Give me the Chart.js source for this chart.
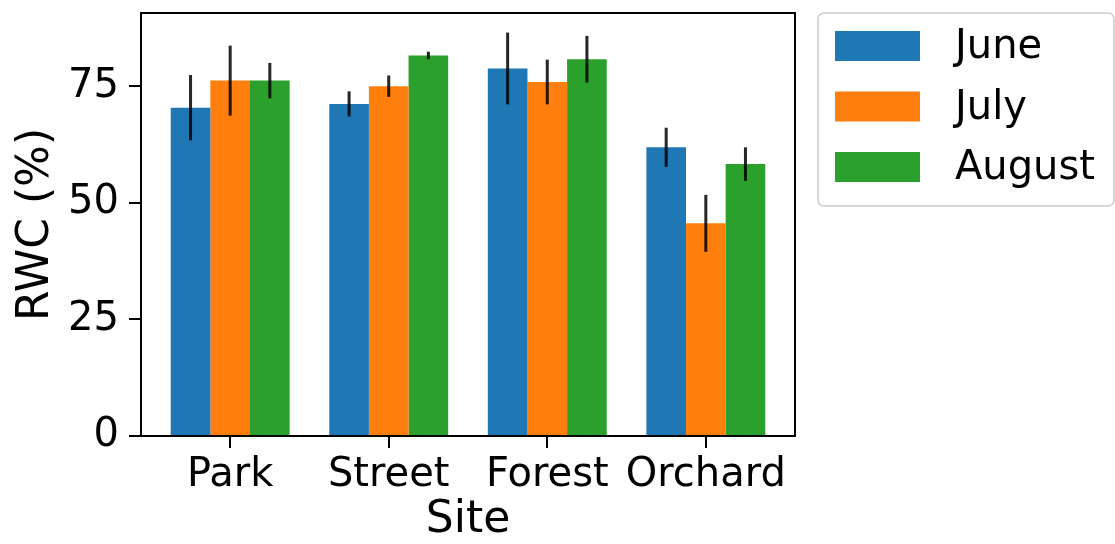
<!DOCTYPE html>
<html>
<head>
<meta charset="utf-8">
<script src="https://cdn.jsdelivr.net/npm/chart.js@4.4.1/dist/chart.umd.min.js"></script>
<style>
  html, body { margin: 0; padding: 0; background: #fff; }
  #wrap { width: 1115px; height: 544px; }
</style>
</head>
<body>
<div id="wrap"><canvas id="myChart" width="1115" height="544"></canvas></div>
<script>
// Dados
const sites = ["Park", "Street", "Forest", "Orchard"];
const months = ["June", "July", "August"];
const june = [70.4, 71.2, 78.8, 61.9];
const juneErr = [7.0, 2.7, 7.7, 4.2];
const july = [76.2, 75.0, 75.9, 45.6];
const julyErr = [7.5, 2.3, 4.8, 6.1];
const august = [76.2, 81.6, 80.8, 58.3];
const augustErr = [3.8, 0.8, 5.0, 3.6];
const yTicks = [0, 25, 50, 75];

const colors = ["#1f77b4", "#ff7f0e", "#2ca02c"];
const FONT = "DejaVu Sans";

function toPoints(values) {
  return values.map((v, i) => ({ x: i, y: v }));
}

// Barras de erro desenhadas pelas escalas do gráfico
const errorBars = {
  id: "errorBars",
  afterDatasetsDraw(chart) {
    const ctx = chart.ctx;
    const yScale = chart.scales.y;
    ctx.save();
    ctx.strokeStyle = "rgba(0,0,0,0.85)";
    ctx.lineWidth = 3;
    chart.data.datasets.forEach((ds, di) => {
      const meta = chart.getDatasetMeta(di);
      meta.data.forEach((bar, i) => {
        const v = ds.data[i].y;
        const e = ds.errors[i];
        ctx.beginPath();
        ctx.moveTo(bar.x, yScale.getPixelForValue(v - e));
        ctx.lineTo(bar.x, yScale.getPixelForValue(v + e));
        ctx.stroke();
      });
    });
    ctx.restore();
  },
};

// Moldura completa (estilo matplotlib) e legenda
const frameAndLegend = {
  id: "frameAndLegend",
  afterDraw(chart) {
    const ctx = chart.ctx;
    const a = chart.chartArea;
    ctx.save();
    ctx.strokeStyle = "#000";
    ctx.lineWidth = 2;
    ctx.strokeRect(a.left, a.top, a.right - a.left, a.bottom - a.top);

    // legenda
    const lx = a.right + 23;
    const ly = 13;
    const lw = 296;
    const lh = 193;
    ctx.strokeStyle = "#cccccc";
    ctx.lineWidth = 1.5;
    ctx.fillStyle = "rgba(255,255,255,0.8)";
    ctx.beginPath();
    ctx.roundRect(lx, ly, lw, lh, 6);
    ctx.fill();
    ctx.stroke();

    ctx.font = `40px "${FONT}"`;
    ctx.textBaseline = "middle";
    ctx.textAlign = "left";
    chart.data.datasets.forEach((ds, i) => {
      const cy = ly + 33 + i * 60.5;
      ctx.fillStyle = ds.backgroundColor;
      ctx.fillRect(lx + 17, cy - 15, 85, 30);
      ctx.fillStyle = "#000";
      ctx.fillText(ds.label, lx + 137, cy + 2);
    });
    ctx.restore();
  },
};

const ctx = document.getElementById("myChart");
new Chart(ctx, {
  type: "bar",
  data: {
    datasets: [
      { label: months[0], data: toPoints(june), errors: juneErr, backgroundColor: colors[0] },
      { label: months[1], data: toPoints(july), errors: julyErr, backgroundColor: colors[1] },
      { label: months[2], data: toPoints(august), errors: augustErr, backgroundColor: colors[2] },
    ],
  },
  options: {
    responsive: false,
    animation: false,
    devicePixelRatio: 1,
    layout: { padding: { left: 0, top: 13, right: 320, bottom: 0 } },
    datasets: { bar: { categoryPercentage: 0.75, barPercentage: 1.0, borderWidth: 0 } },
    plugins: {
      legend: { display: false },
      tooltip: { enabled: false },
    },
    scales: {
      x: {
        type: "linear",
        min: -0.5625,
        max: 3.5625,
        offset: false,
        afterBuildTicks: (axis) => {
          axis.ticks = sites.map((s, i) => ({ value: i }));
        },
        afterFit: (axis) => {
          axis.height = 108;
          axis.paddingLeft = 0;
          axis.paddingRight = 0;
        },
        ticks: {
          callback: (v) => sites[v],
          color: "#000",
          font: { family: FONT, size: 40 },
          padding: 4,
          maxRotation: 0,
          autoSkip: false,
        },
        grid: {
          display: true,
          offset: false,
          drawOnChartArea: false,
          drawTicks: true,
          tickLength: 12,
          color: "#000",
          lineWidth: 2,
        },
        border: { display: true, color: "#000", width: 2 },
        title: {
          display: true,
          text: "Site",
          color: "#000",
          font: { family: FONT, size: 44, lineHeight: 1.0 },
          padding: { top: 0, bottom: 1 },
        },
      },
      y: {
        min: 0,
        max: 90.7,
        afterBuildTicks: (axis) => {
          axis.ticks = yTicks.map((v) => ({ value: v }));
        },
        afterFit: (axis) => {
          axis.width = 141;
          axis.paddingTop = 0;
          axis.paddingBottom = 0;
        },
        ticks: {
          color: "#000",
          font: { family: FONT, size: 40 },
          padding: 10,
        },
        grid: {
          display: true,
          drawOnChartArea: false,
          drawTicks: true,
          tickLength: 12,
          color: "#000",
          lineWidth: 2,
        },
        border: { display: true, color: "#000", width: 2 },
        title: {
          display: true,
          text: "RWC (%)",
          color: "#000",
          font: { family: FONT, size: 44 },
          padding: { top: 10, bottom: 0 },
        },
      },
    },
  },
  plugins: [errorBars, frameAndLegend],
});
</script>
</body>
</html>
